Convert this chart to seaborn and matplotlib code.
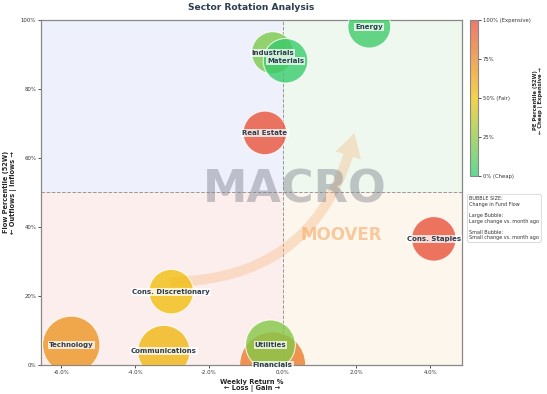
import numpy as np
import pandas as pd
import matplotlib
matplotlib.use("Agg")
import matplotlib.pyplot as plt
import seaborn as sns
from matplotlib.colors import LinearSegmentedColormap, Normalize
from matplotlib.cm import ScalarMappable
from matplotlib.ticker import FuncFormatter

# данные
sectors = ["Energy", "Industrials", "Materials", "Real Estate", "Cons. Staples",
           "Cons. Discretionary", "Technology", "Communications", "Financials", "Utilities"]
weekly_return = [2.35, -0.27, 0.08, -0.48, 4.10, -3.02, -5.73, -3.22, -0.27, -0.33]
flow_pct = [98.0, 90.4, 88.1, 67.2, 36.5, 21.2, 5.8, 3.9, 0.0, 5.8]
pe_pct = [5, 20, 3, 97, 97, 52, 70, 55, 80, 22]
flow_change = [1.3, 1.1, 1.8, 1.5, 1.8, 1.8, 6.3, 4.3, 10.0, 3.5]

x_ticks = [-6, -4, -2, 0, 2, 4]
y_ticks = [0, 20, 40, 60, 80, 100]
cbar_ticks = [0, 25, 50, 75, 100]
cbar_labels = ["0% (Cheap)", "25%", "50% (Fair)", "75%", "100% (Expensive)"]

df = pd.DataFrame({"sector": sectors, "ret": weekly_return, "flow": flow_pct,
                   "pe": pe_pct, "chg": flow_change})

sns.set_theme(style="white")
plt.rcParams["font.family"] = ["DejaVu Sans"]
navy = "#2c3e50"

cmap = LinearSegmentedColormap.from_list("pe", ["#2ecc71", "#f1c40f", "#e74c3c"])

fig = plt.figure(figsize=(5.47, 3.94), dpi=100)
ax = fig.add_axes([0.075, 0.074, 0.770, 0.876])
xmin, xmax = -6.55, 4.87

# фоновые квадранты
ax.fill_between([xmin, 0], 50, 100, color="#eef0fc", zorder=0)
ax.fill_between([0, xmax], 50, 100, color="#eef8ee", zorder=0)
ax.fill_between([xmin, 0], 0, 50, color="#fdeeee", zorder=0)
ax.fill_between([0, xmax], 0, 50, color="#fdf6ec", zorder=0)
ax.axvline(0, color="#999999", ls="--", lw=0.7, zorder=1)
ax.axhline(50, color="#999999", ls="--", lw=0.7, zorder=1)

# водяной знак
ax.annotate("", xy=(0.745, 0.68), xytext=(0.30, 0.24), xycoords=ax.transAxes,
            arrowprops=dict(arrowstyle="simple,head_width=1.6,head_length=1.4,tail_width=0.6",
                            connectionstyle="arc3,rad=0.4", color="#f5b47a",
                            alpha=0.35, lw=0), zorder=1)
ax.text(0.603, 0.507, "MACRO", transform=ax.transAxes, ha="center", va="center",
        fontsize=32, fontweight="bold", color="#7f8590", alpha=0.45, zorder=1)
ax.text(0.713, 0.377, "MOOVER", transform=ax.transAxes, ha="center", va="center",
        fontsize=12, fontweight="bold", color="#f5a55a", alpha=0.55, zorder=1)

sns.scatterplot(data=df, x="ret", y="flow", hue="pe", palette=cmap, hue_norm=(0, 100),
                size="chg", sizes=(910, 2260), size_norm=(1, 10), alpha=0.8,
                edgecolor="white", linewidth=0.8, legend=False, ax=ax, zorder=3)
ax.collections[-1].set_clip_on(True)

for _, r in df.iterrows():
    ax.text(r["ret"], r["flow"], r["sector"], ha="center", va="center", fontsize=5,
            fontweight="bold", color=navy, zorder=5, clip_on=False,
            bbox=dict(boxstyle="square,pad=0.15", fc="white", ec="none", alpha=0.75))

ax.set_xlim(xmin, xmax)
ax.set_ylim(0, 100)
ax.set_xticks(x_ticks)
ax.set_yticks(y_ticks)
ax.xaxis.set_major_formatter(FuncFormatter(lambda v, p: f"{v:.1f}%"))
ax.yaxis.set_major_formatter(FuncFormatter(lambda v, p: f"{v:.0f}%"))
ax.tick_params(labelsize=3.9, colors="#333333", length=2, width=0.6, pad=1.5, left=True, bottom=True)
for s in ax.spines.values():
    s.set_color("#888888")
    s.set_linewidth(0.9)

ax.set_xlabel("Weekly Return %\n\u2190 Loss | Gain \u2192", fontsize=4.8, fontweight="bold",
              labelpad=3, linespacing=1.1)
ax.set_ylabel("Flow Percentile (52W)\n\u2190 Outflows | Inflows \u2192", fontsize=4.8,
              fontweight="bold", labelpad=3, linespacing=1.1)
ax.set_title("Sector Rotation Analysis", fontsize=6.6, fontweight="bold", color=navy, pad=7)

# цветовая шкала
cax = fig.add_axes([0.859, 0.553, 0.0146, 0.396])
cb = fig.colorbar(ScalarMappable(norm=Normalize(0, 100), cmap=cmap), cax=cax)
cb.solids.set_alpha(0.75)
cb.set_ticks(cbar_ticks)
cb.set_ticklabels(cbar_labels)
cb.ax.tick_params(labelsize=3.8, length=2, width=0.6, pad=1.5, colors="#333333")
cb.outline.set_edgecolor("#888888")
cb.outline.set_linewidth(0.8)
fig.text(0.983, 0.746, "PE Percentile (52W)\n\u2190 Cheap | Expensive \u2192", fontsize=3.8,
         fontweight="bold", rotation=90, ha="center", va="center", linespacing=1.1)

fig.text(0.858, 0.502,
         "BUBBLE SIZE:\nChange in Fund Flow\n\nLarge Bubble:\nLarge change vs. month ago\n\n"
         "Small Bubble:\nSmall change vs. month ago",
         fontsize=3.5, va="top", ha="left", color="#333333", linespacing=1.15,
         bbox=dict(boxstyle="round,pad=0.4", fc="white", ec="#cccccc", lw=0.5))

fig.savefig("out.png", dpi=100)
